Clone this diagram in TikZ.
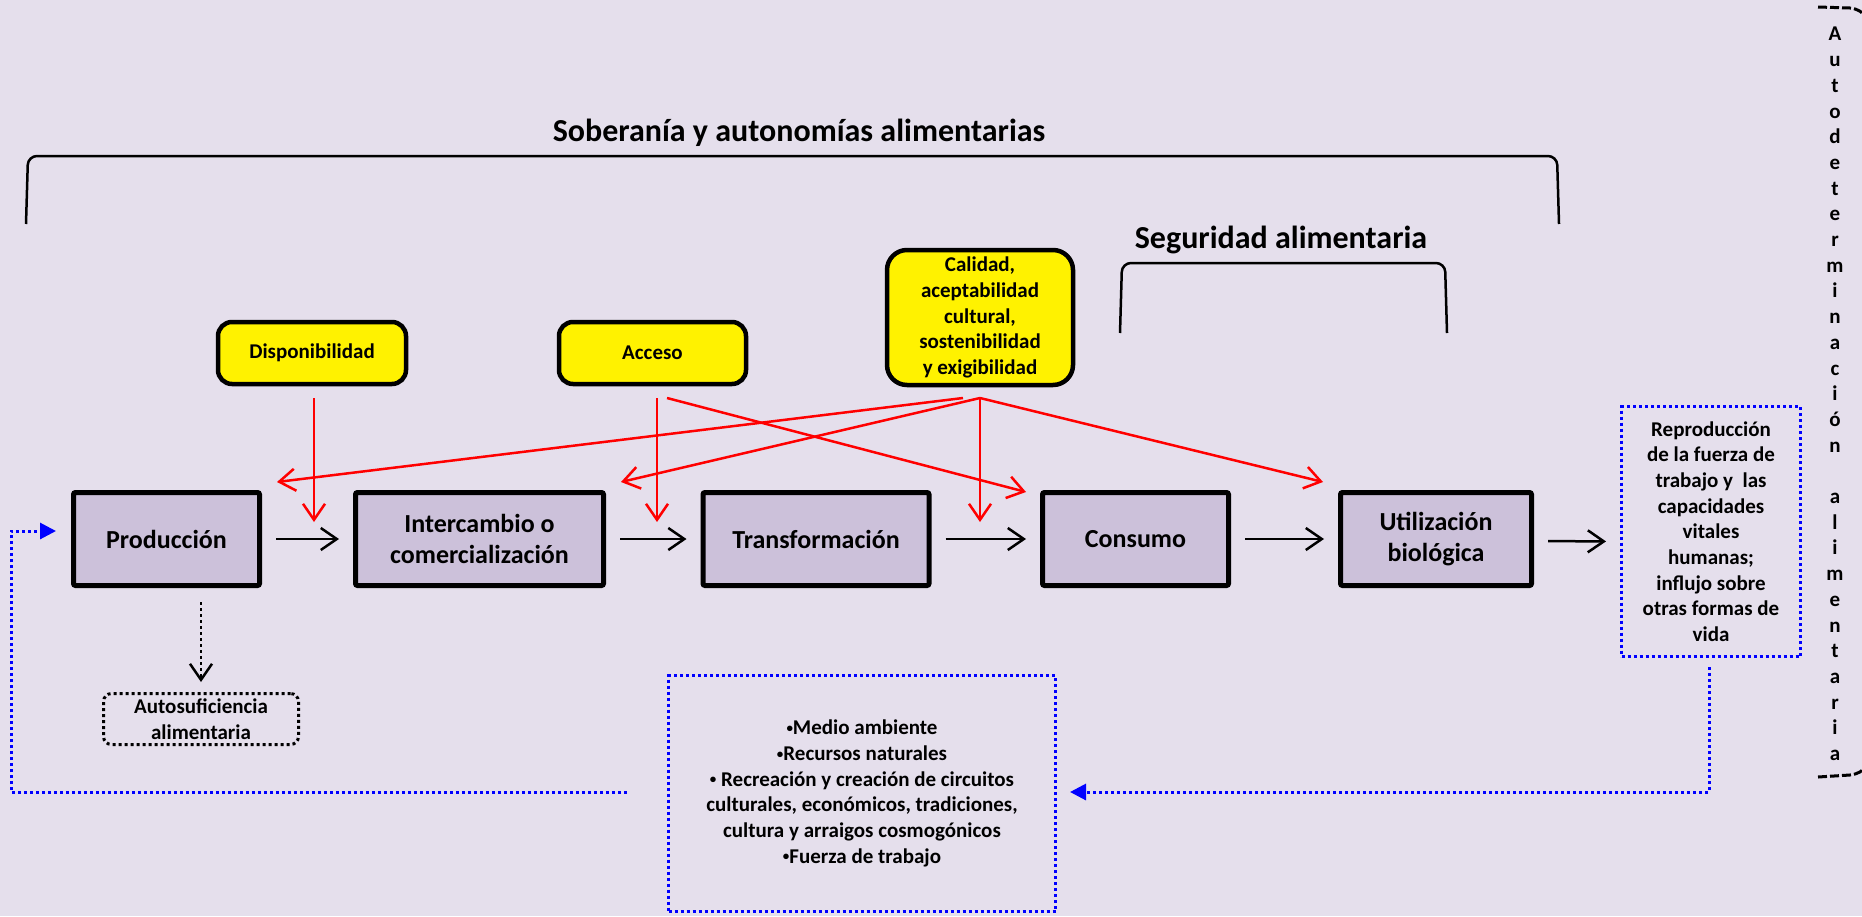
\documentclass[tikz,border=0pt]{standalone}
\usepackage{fontspec}
\setmainfont{Carlito}
\usetikzlibrary{arrows.meta,calc}
\definecolor{bgc}{RGB}{229,223,236}
\definecolor{boxc}{RGB}{204,193,218}
\newcommand{\smallf}{\fontsize{21}{25.7}\selectfont\bfseries}
\newcommand{\midf}{\fontsize{26}{31}\selectfont\bfseries}
\newcommand{\bigf}{\fontsize{32}{38}\selectfont\bfseries}
\newcommand{\bul}{\raisebox{0.12em}{\fontsize{13}{13}\selectfont •}}
\begin{document}
\begin{tikzpicture}[x=1pt,y=-1pt,
  flowbox/.style={draw=black, line width=5pt, fill=boxc, rounded corners=2pt,
    minimum height=93pt, align=center, font=\midf, inner sep=0pt},
  ybox/.style={draw=black, line width=4.5pt, fill=yellow, rounded corners=14pt,
    align=center, font=\smallf, inner sep=0pt},
  bluebox/.style={draw=blue, line width=3pt, dash pattern=on 3pt off 3pt,
    align=center, font=\smallf, inner sep=0pt},
  autobox/.style={draw=black, line width=3pt, dash pattern=on 3pt off 3pt,
    rounded corners=8pt, align=center, font=\smallf, inner sep=0pt},
  redarr/.style={draw=red, line width=2.5pt, -{Straight Barb[length=16pt,width=22pt]}},
  blackarr/.style={draw=black, line width=2.5pt, -{Straight Barb[length=16pt,width=22pt]},
    shorten >=14pt, shorten <=14pt},
  bluedot/.style={draw=blue, line width=3pt, dash pattern=on 3pt off 3pt,
    -{Triangle[length=16pt,width=16pt]}},
  bracketline/.style={draw=black, line width=2.5pt, rounded corners=9pt},
  titletext/.style={font=\bigf, inner sep=0pt}
]
\fill[bgc] (0,0) rectangle (1862,916);
\useasboundingbox (0,0) rectangle (1862,916);

% titles and brackets
\node[titletext] (sob) at (799,133) {Soberanía y autonomías alimentarias};
\draw[bracketline] (26,224) -- (28,156) -- (1557,156) -- (1559,224);
\node[titletext] (seg) at (1281,240) {Seguridad alimentaria};
\draw[bracketline] (1120,333) -- (1122,263) -- (1445,263) -- (1447,333);

% yellow boxes
\node[ybox, minimum width=188pt, minimum height=62pt] (disp) at (312,353) {Disponibilidad};
\node[ybox, minimum width=187pt, minimum height=62pt] (acc) at (652.5,353) {Acceso};
\node[ybox, minimum width=186pt, minimum height=135pt, rounded corners=20pt] (cal) at (980,317.5)
  {Calidad,\\aceptabilidad\\cultural,\\sostenibilidad\\y exigibilidad};

% flow boxes
\node[flowbox, minimum width=186pt] (prod) at (166.5,539) {Producción};
\node[flowbox, minimum width=248pt] (inter) at (479.5,539) {Intercambio o\\comercialización};
\node[flowbox, minimum width=226pt] (trans) at (816,539) {Transformación};
\node[flowbox, minimum width=186pt] (cons) at (1135.5,539) {Consumo};
\node[flowbox, minimum width=191pt] (util) at (1436,539) {Utilización\\biológica};

% blue dotted boxes
\node[bluebox, minimum width=179pt, minimum height=250pt] (repro) at (1711,531.5)
  {Reproducción\\de la fuerza de\\trabajo y~ las\\capacidades\\vitales\\humanas;\\influjo sobre\\otras formas de\\vida};
\node[bluebox, minimum width=387pt, minimum height=236pt] (medio) at (862,793.5)
  {\bul Medio ambiente\\\bul Recursos naturales\\\bul{} Recreación y creación de circuitos\\culturales, económicos, tradiciones,\\cultura y arraigos cosmogónicos\\\bul Fuerza de trabajo};
\node[autobox, minimum width=195pt, minimum height=51pt] (auto) at (201,719)
  {Autosuficiencia\\alimentaria};

% vertical text
\node[font=\smallf, align=center, inner sep=0pt] (autodet) at (1835,394)
  {A\\u\\t\\o\\d\\e\\t\\e\\r\\m\\i\\n\\a\\c\\i\\ó\\n\\\strut\\a\\l\\i\\m\\e\\n\\t\\a\\r\\i\\a};
\draw[line width=3pt, dash pattern=on 9pt off 3pt] (1818,7) -- (1850,8) .. controls (1858,9) and (1863,12) .. (1866,18);
\draw[line width=3pt, dash pattern=on 9pt off 3pt] (1818,777) -- (1850,775) .. controls (1858,774) and (1863,771) .. (1866,766);

% black flow arrows
\draw[blackarr] (prod.east) -- (inter.west);
\draw[blackarr] (inter.east) -- (trans.west);
\draw[blackarr] (trans.east) -- (cons.west);
\draw[blackarr] (cons.east) -- (util.west);
\draw[blackarr] ($(util.east)+(0,2)$) -- ($(repro.west)+(0,10)$);

% red arrows
\coordinate (ds) at (314,398);
\coordinate (de) at (314,522);
\coordinate (as1) at (657,398);
\coordinate (ae1) at (657,522);
\coordinate (as2) at (667,398);
\coordinate (ae2) at (1026,492);
\coordinate (cs1) at (963,398);
\coordinate (ce1) at (277,482);
\coordinate (cs2) at (980,398);
\coordinate (ce2) at (621,482);
\coordinate (ce3) at (980,522);
\coordinate (ce4) at (1323,482);
\draw[redarr] (ds) -- (de);
\draw[redarr] (as1) -- (ae1);
\draw[redarr] (as2) -- (ae2);
\draw[redarr] (cs1) -- (ce1);
\draw[redarr] (cs2) -- (ce2);
\draw[redarr] (cs2) -- (ce3);
\draw[redarr] (cs2) -- (ce4);

% dotted arrow to autosuficiencia
\coordinate (autos) at (201,602);
\draw[draw=black, line width=2.5pt, dash pattern=on 3pt off 3pt,
  -{Straight Barb[length=16pt,width=22pt]}, shorten >=10pt] (autos) -- (auto.north);

% blue feedback loops
\coordinate (lfree) at (627,792);
\draw[bluedot] (lfree) -- (11,792) -- (11,531) -- ($(prod.west |- 0,531)+(-15,0)$);
\coordinate (rfree) at ($(repro.south)+(-2,9)$);
\draw[bluedot] (rfree) -- (1709,792) -- ($(medio.east |- 0,792)+(13,0)$);
\end{tikzpicture}
\end{document}
